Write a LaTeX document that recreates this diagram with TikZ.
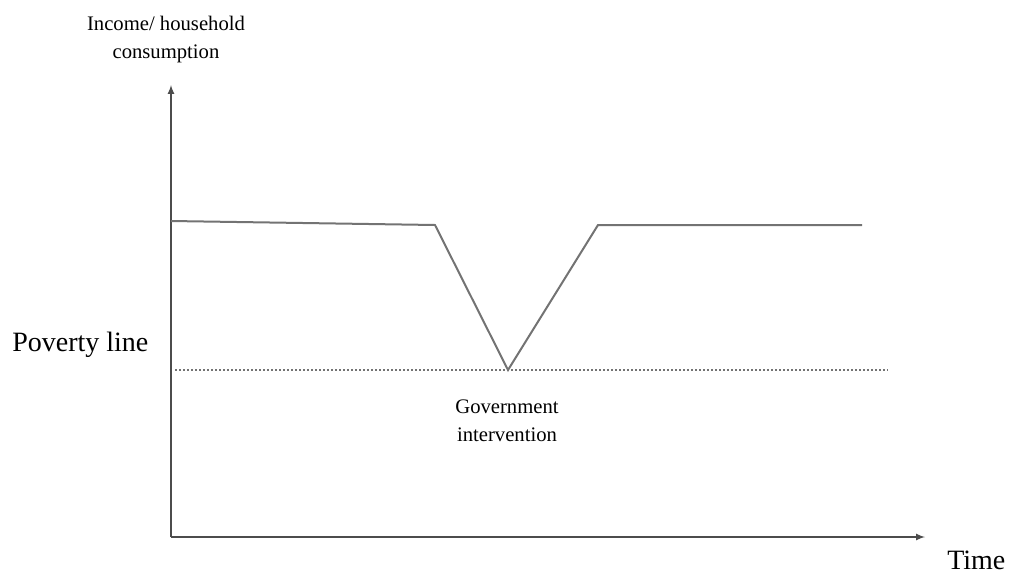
\documentclass[tikz,border=0pt]{standalone}
\usepackage{fontspec}
\setmainfont{Liberation Serif}
\usetikzlibrary{positioning}
\usetikzlibrary{arrows}

\begin{document}
\begin{tikzpicture}[
  x=0.75pt,y=-0.75pt,
  axis/.style={draw=black!70,line width=1.3pt,->,>=latex,shorten >=0pt},
  income/.style={draw=black!55,line width=1.5pt,line join=miter},
  poverty/.style={draw=black!55,line width=1.4pt,dash pattern=on 1.5pt off 1.5pt},
  biglabel/.style={font=\fontsize{21}{24}\selectfont,inner sep=0pt},
  smalllabel/.style={font=\fontsize{15.5}{21}\selectfont,align=center,inner sep=0pt},
  every node/.style={align=center}]

  \useasboundingbox (0,0) rectangle (1011,579);

  % axes
  \coordinate (origin) at (171,537);
  \coordinate (ytop) at (171,85);
  \coordinate (xend) at (925,537);
  \draw[axis] (origin) -- (ytop);
  \draw[axis] (origin) -- (xend);

  % income path
  \coordinate (start) at (171,221);
  \coordinate (dropstart) at (435,225);
  \coordinate (bottom) at (508,370);
  \coordinate (recover) at (598,225);
  \coordinate (stop) at (862,225);
  \draw[income] (start) -- (dropstart) -- (bottom) -- (recover) -- (stop);

  % poverty line
  \coordinate (povleft) at (175,370);
  \coordinate (povright) at (888,370);
  \draw[poverty] (povleft) -- (povright);

  % labels
  \node[smalllabel] (ylabel) at (166,40) {Income/ household\\consumption};
  \node[biglabel,anchor=west] (povlabel) at (12,345) {Poverty line};
  \node[biglabel,anchor=west] (xlabel) at (947,560) {Time};
  \node[smalllabel] (govlabel) at (507,421) {Government\\intervention};
\end{tikzpicture}
\end{document}
